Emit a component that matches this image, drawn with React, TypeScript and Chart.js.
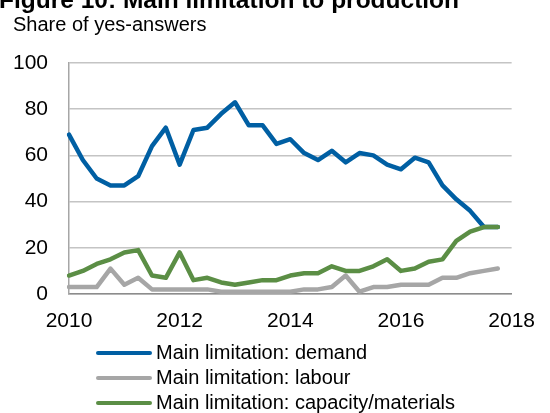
import React, { useEffect, useRef } from "react";
import { Chart, registerables } from "chart.js";

Chart.register(...registerables);

const quarters: string[] = [
  "2010Q1", "2010Q2", "2010Q3", "2010Q4",
  "2011Q1", "2011Q2", "2011Q3", "2011Q4",
  "2012Q1", "2012Q2", "2012Q3", "2012Q4",
  "2013Q1", "2013Q2", "2013Q3", "2013Q4",
  "2014Q1", "2014Q2", "2014Q3", "2014Q4",
  "2015Q1", "2015Q2", "2015Q3", "2015Q4",
  "2016Q1", "2016Q2", "2016Q3", "2016Q4",
  "2017Q1", "2017Q2", "2017Q3", "2017Q4",
  "2018Q1",
];

const demand: number[] = [69, 58, 50, 47, 47, 51, 64, 72, 56, 71, 72, 78, 83, 73, 73, 65, 67, 61, 58, 62, 57, 61, 60, 56, 54, 59, 57, 47, 41, 36, 29, 29];
const labour: number[] = [3, 3, 3, 11, 4, 7, 2, 2, 2, 2, 2, 1, 1, 1, 1, 1, 1, 2, 2, 3, 8, 1, 3, 3, 4, 4, 4, 7, 7, 9, 10, 11];
const capacity: number[] = [8, 10, 13, 15, 18, 19, 8, 7, 18, 6, 7, 5, 4, 5, 6, 6, 8, 9, 9, 12, 10, 10, 12, 15, 10, 11, 14, 15, 23, 27, 29, 29];

const seriesNames: string[] = [
  "Main limitation: demand",
  "Main limitation: labour",
  "Main limitation: capacity/materials",
];
const seriesColors: string[] = ["#005FA3", "#A6A6A6", "#5B8E45"];

const yearTicks: string[] = ["2010", "2012", "2014", "2016", "2018"];
const yTicks: number[] = [0, 20, 40, 60, 80, 100];

const titleText = "Figure 10: Main limitation to production";
const subtitleText = "Share of yes-answers";

const FONT = "'Liberation Sans', Arial, Helvetica, sans-serif";

const textPlugin = {
  id: "textPlugin",
  afterDraw(chart: any) {
    const ctx = chart.ctx;
    ctx.save();
    ctx.fillStyle = "#000";
    ctx.textAlign = "left";
    ctx.textBaseline = "alphabetic";
    ctx.font = `bold 24.5px ${FONT}`;
    ctx.fillText(titleText, -1, 7.5);
    ctx.font = `20px ${FONT}`;
    ctx.fillText(subtitleText, 13, 31);

    // legend
    chart.data.datasets.forEach((ds: any, i: number) => {
      const y = 353 + 25 * i;
      ctx.strokeStyle = ds.borderColor;
      ctx.lineWidth = 4;
      ctx.lineCap = "round";
      ctx.beginPath();
      ctx.moveTo(98, y);
      ctx.lineTo(150, y);
      ctx.stroke();
      ctx.fillStyle = "#000";
      ctx.font = `20px ${FONT}`;
      ctx.fillText(ds.label, 156, y + 6);
    });
    ctx.restore();
  },
};

export default function App() {
  const canvasRef = useRef<HTMLCanvasElement | null>(null);

  useEffect(() => {
    if (!canvasRef.current) return;
    const mk = (label: string, data: number[], color: string, order: number) => ({
      label,
      data,
      borderColor: color,
      backgroundColor: color,
      borderWidth: 4.5,
      pointRadius: 0,
      tension: 0,
      borderJoinStyle: "round" as const,
      borderCapStyle: "round" as const,
      fill: false,
      order,
    });
    const chart = new Chart(canvasRef.current, {
      type: "line",
      data: {
        labels: quarters,
        datasets: [
          mk(seriesNames[0], demand, seriesColors[0], 2),
          mk(seriesNames[1], labour, seriesColors[1], 1),
          mk(seriesNames[2], capacity, seriesColors[2], 0),
        ],
      },
      options: {
        responsive: false,
        animation: false,
        layout: { padding: { top: 63, right: 27, bottom: 0, left: 0 } },
        plugins: {
          legend: { display: false },
          title: { display: false },
          tooltip: { enabled: false },
        },
        scales: {
          x: {
            type: "category",
            offset: false,
            afterFit: (scale: any) => {
              scale.height = 119;
            },
            grid: { display: false, drawTicks: false },
            border: { display: true, color: "#8C8C8C", width: 1.5 },
            ticks: {
              color: "#000",
              font: { family: FONT, size: 21 },
              padding: 15,
              maxRotation: 0,
              minRotation: 0,
              autoSkip: false,
              callback: function (this: any, _v: any, index: number) {
                const q = quarters[index] || "";
                const yr = q.slice(0, 4);
                return q.endsWith("Q1") && yearTicks.includes(yr) ? yr : "";
              },
            },
          },
          y: {
            min: 0,
            max: 100,
            afterBuildTicks: (axis: any) => {
              axis.ticks = yTicks.map((v) => ({ value: v }));
            },
            afterFit: (scale: any) => {
              scale.width = 69;
            },
            grid: { color: "#C4C4C4", lineWidth: 1.5, drawTicks: false },
            border: { display: true, color: "#A6A6A6", width: 1.5 },
            ticks: {
              color: "#000",
              font: { family: FONT, size: 21 },
              padding: 21,
            },
          },
        },
      },
      plugins: [textPlugin],
    });
    return () => chart.destroy();
  }, []);

  return (
    <div style={{ position: "absolute", left: 0, top: 0, width: 550, height: 413, background: "#fff" }}>
      <canvas ref={canvasRef} width={550} height={413} style={{ display: "block" }} />
    </div>
  );
}
